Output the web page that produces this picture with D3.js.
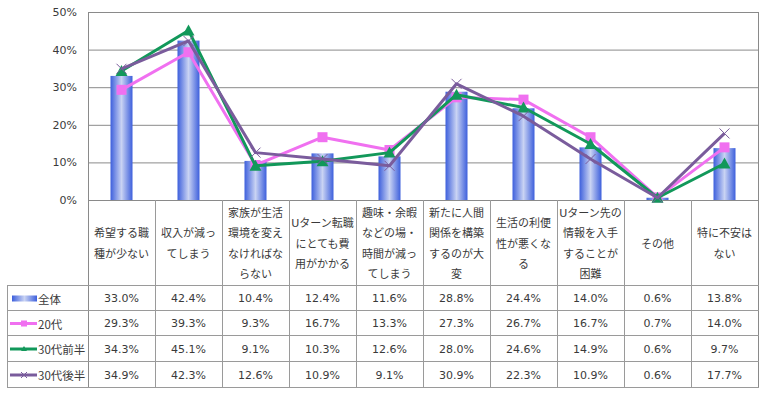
<!DOCTYPE html>
<html lang="ja">
  <head>
    <meta charset="UTF-8" />
    <script src="https://d3js.org/d3.v7.min.js"></script>
    <style>
      body {
        margin: 0;
        background: #ffffff;
      }
      svg {
        font-family: "DejaVu Sans", "Noto Sans CJK JP", sans-serif;
        font-size: 11px;
      }
      .cell-text {
        fill: #3a3a3a;
      }
    </style>
  </head>
  <body>
    <div id="chart"></div>
    <script>
      // categories (header text split into lines)
      const categories = [
        ["希望する職", "種が少ない"],
        ["収入が減っ", "てしまう"],
        ["家族が生活", "環境を変え", "なければな", "らない"],
        ["Uターン転職", "にとても費", "用がかかる"],
        ["趣味・余暇", "などの場・", "時間が減っ", "てしまう"],
        ["新たに人間", "関係を構築", "するのが大", "変"],
        ["生活の利便", "性が悪くな", "る"],
        ["Uターン先の", "情報を入手", "することが", "困難"],
        ["その他"],
        ["特に不安は", "ない"]
      ];

      const seriesNames = ["全体", "20代", "30代前半", "30代後半"];
      const allValues = [33.0, 42.4, 10.4, 12.4, 11.6, 28.8, 24.4, 14.0, 0.6, 13.8];
      const age20Values = [29.3, 39.3, 9.3, 16.7, 13.3, 27.3, 26.7, 16.7, 0.7, 14.0];
      const age30EarlyValues = [34.3, 45.1, 9.1, 10.3, 12.6, 28.0, 24.6, 14.9, 0.6, 9.7];
      const age30LateValues = [34.9, 42.3, 12.6, 10.9, 9.1, 30.9, 22.3, 10.9, 0.6, 17.7];
      const yTicks = [0, 10, 20, 30, 40, 50];

      const width = 762, height = 395;
      const plot = { left: 88, right: 758, top: 12, bottom: 200 };
      const tableLeft = 7;
      const rowLines = [285, 310, 335, 361, 387];
      const gridColor = "#8a8a8a";
      const tableColor = "#9a9a9a";

      const svg = d3.select("#chart").append("svg")
        .attr("width", width)
        .attr("height", height);

      // bar gradient
      const defs = svg.append("defs");
      const grad = defs.append("linearGradient")
        .attr("id", "barGrad")
        .attr("x1", "0").attr("x2", "1").attr("y1", "0").attr("y2", "0");
      grad.append("stop").attr("offset", "0%").attr("stop-color", "#3d5fdc");
      grad.append("stop").attr("offset", "50%").attr("stop-color", "#c9d3f3");
      grad.append("stop").attr("offset", "100%").attr("stop-color", "#3d5fdc");

      const x = d3.scaleBand()
        .domain(d3.range(categories.length))
        .range([plot.left, plot.right])
        .padding(0);

      const y = d3.scaleLinear()
        .domain([0, 50])
        .range([plot.bottom, plot.top]);

      // gridlines
      svg.append("g")
        .selectAll("line")
        .data(yTicks)
        .join("line")
        .attr("x1", plot.left)
        .attr("x2", plot.right)
        .attr("y1", (d) => y(d) + 0.5)
        .attr("y2", (d) => y(d) + 0.5)
        .attr("stroke", gridColor);

      // y axis labels
      const yAxis = svg.append("g")
        .attr("transform", "translate(" + plot.left + ",0)")
        .call(d3.axisLeft(y).tickValues(yTicks).tickSize(0).tickPadding(11).tickFormat((d) => d + "%"));
      yAxis.select(".domain").remove();
      yAxis.selectAll("text")
        .attr("fill", "#3a3a3a")
        .style("font-size", "11px")
        .style("font-family", "'DejaVu Sans', sans-serif");

      // plot frame
      svg.append("line")
        .attr("x1", plot.left + 0.5).attr("x2", plot.left + 0.5)
        .attr("y1", plot.top).attr("y2", rowLines[rowLines.length - 1])
        .attr("stroke", gridColor);
      svg.append("line")
        .attr("x1", plot.right + 0.5).attr("x2", plot.right + 0.5)
        .attr("y1", plot.top).attr("y2", rowLines[rowLines.length - 1])
        .attr("stroke", gridColor);

      // bars
      const barW = 22;
      svg.append("g")
        .selectAll("rect")
        .data(allValues)
        .join("rect")
        .attr("x", (d, i) => x(i) + x.bandwidth() / 2 - barW / 2)
        .attr("width", barW)
        .attr("y", (d) => y(d))
        .attr("height", (d) => y(0) - y(d))
        .attr("fill", "url(#barGrad)");

      // line series
      const series = [
        { name: "20代", values: age20Values, color: "#f070f0", marker: "square" },
        { name: "30代前半", values: age30EarlyValues, color: "#12985a", marker: "triangle" },
        { name: "30代後半", values: age30LateValues, color: "#7a5c9c", marker: "cross" }
      ];

      const line = d3.line()
        .x((d, i) => x(i) + x.bandwidth() / 2)
        .y((d) => y(d));

      function drawMarker(g, type, cx, cy, color) {
        if (type === "square") {
          g.append("rect")
            .attr("x", cx - 5).attr("y", cy - 5)
            .attr("width", 10).attr("height", 10)
            .attr("fill", color);
        } else if (type === "triangle") {
          g.append("path")
            .attr("d", "M" + cx + "," + (cy - 6) + "L" + (cx + 6) + "," + (cy + 5) + "L" + (cx - 6) + "," + (cy + 5) + "Z")
            .attr("fill", color);
        } else {
          g.append("path")
            .attr("d", "M" + (cx - 5) + "," + (cy - 5) + "L" + (cx + 5) + "," + (cy + 5) +
              "M" + (cx + 5) + "," + (cy - 5) + "L" + (cx - 5) + "," + (cy + 5))
            .attr("stroke", color)
            .attr("stroke-width", 1);
        }
      }

      series.forEach((s) => {
        const g = svg.append("g");
        g.append("path")
          .datum(s.values)
          .attr("d", line)
          .attr("fill", "none")
          .attr("stroke", s.color)
          .attr("stroke-width", 3)
          .attr("stroke-linejoin", "round");
        s.values.forEach((v, i) => {
          drawMarker(g, s.marker, x(i) + x.bandwidth() / 2, y(v), s.color);
        });
      });

      // table
      const table = svg.append("g");
      rowLines.forEach((ry) => {
        table.append("line")
          .attr("x1", tableLeft).attr("x2", plot.right + 1)
          .attr("y1", ry + 0.5).attr("y2", ry + 0.5)
          .attr("stroke", tableColor);
      });
      table.append("line")
        .attr("x1", tableLeft + 0.5).attr("x2", tableLeft + 0.5)
        .attr("y1", rowLines[0]).attr("y2", rowLines[rowLines.length - 1])
        .attr("stroke", tableColor);
      d3.range(1, categories.length).forEach((i) => {
        table.append("line")
          .attr("x1", x(i) + 0.5).attr("x2", x(i) + 0.5)
          .attr("y1", plot.bottom).attr("y2", rowLines[rowLines.length - 1])
          .attr("stroke", tableColor);
      });

      // header text
      const headerMid = (plot.bottom + rowLines[0]) / 2 + 1;
      const lineGap = 20.5;
      categories.forEach((lines, i) => {
        const t = table.append("text")
          .attr("class", "cell-text")
          .attr("text-anchor", "middle")
          .attr("dominant-baseline", "central");
        lines.forEach((ln, j) => {
          t.append("tspan")
            .attr("x", x(i) + x.bandwidth() / 2)
            .attr("y", headerMid + (j - (lines.length - 1) / 2) * lineGap)
            .text(ln);
        });
      });

      // value rows
      const rowData = [allValues, age20Values, age30EarlyValues, age30LateValues];
      rowData.forEach((vals, r) => {
        const cy = (rowLines[r] + rowLines[r + 1]) / 2 + 1;
        vals.forEach((v, i) => {
          table.append("text")
            .attr("class", "cell-text")
            .attr("x", x(i) + x.bandwidth() / 2)
            .attr("y", cy)
            .attr("text-anchor", "middle")
            .attr("dominant-baseline", "central")
            .text(v.toFixed(1) + "%");
        });

        // legend cell
        if (r === 0) {
          table.append("rect")
            .attr("x", 12).attr("y", cy - 3)
            .attr("width", 25).attr("height", 6)
            .attr("fill", "url(#barGrad)");
        } else {
          const s = series[r - 1];
          table.append("line")
            .attr("x1", 10).attr("x2", 37)
            .attr("y1", cy).attr("y2", cy)
            .attr("stroke", s.color)
            .attr("stroke-width", 3);
          const mg = table.append("g");
          if (s.marker === "square") {
            mg.append("rect").attr("x", 21).attr("y", cy - 3).attr("width", 6).attr("height", 6).attr("fill", s.color);
          } else if (s.marker === "triangle") {
            mg.append("path").attr("d", "M24," + (cy - 3) + "L27," + (cy + 2) + "L21," + (cy + 2) + "Z").attr("fill", s.color);
          } else {
            mg.append("path")
              .attr("d", "M21," + (cy - 3) + "L27," + (cy + 3) + "M27," + (cy - 3) + "L21," + (cy + 3))
              .attr("stroke", s.color);
          }
        }
        table.append("text")
          .attr("class", "cell-text")
          .attr("x", 38)
          .attr("y", cy)
          .attr("dominant-baseline", "central")
          .style("font-size", "11.5px")
          .style("font-family", "'Noto Sans CJK JP', sans-serif")
          .text(seriesNames[r]);
      });
    </script>
  </body>
</html>
